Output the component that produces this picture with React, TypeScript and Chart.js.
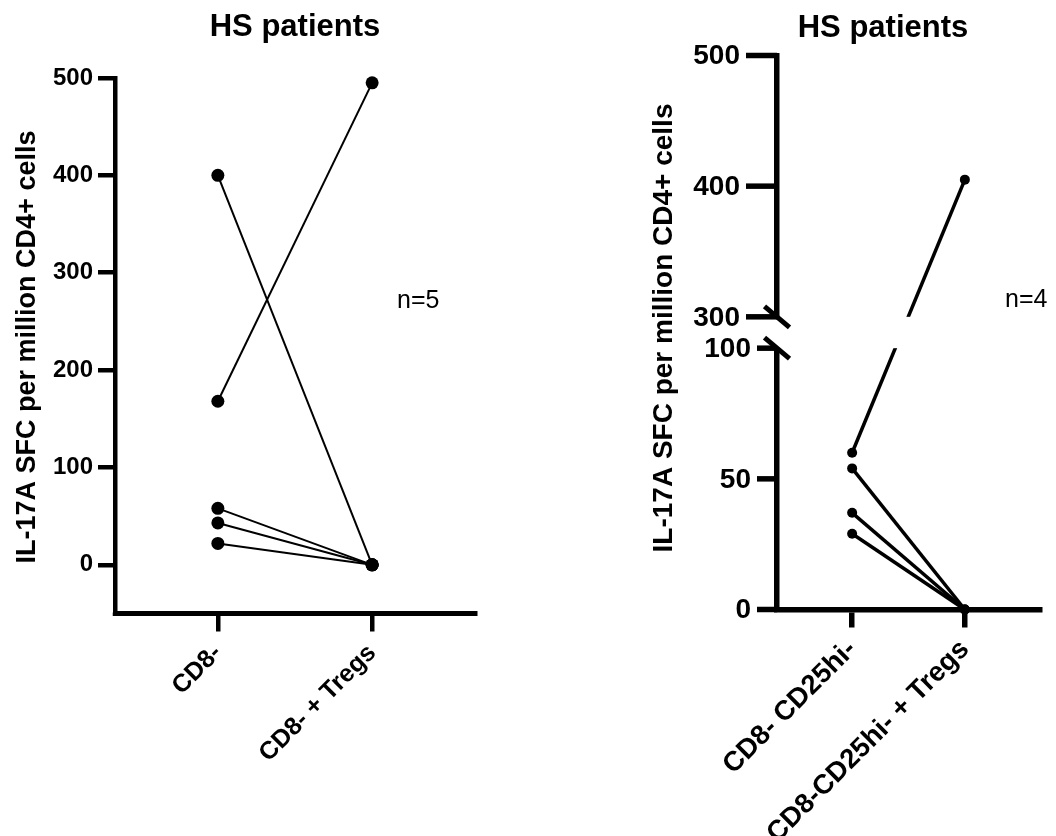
import { useEffect, useRef } from "react";
import { Chart, registerables } from "chart.js";

Chart.register(...registerables);

const FONT = '"Liberation Sans", Arial, Helvetica, sans-serif';

const panelTitle = "HS patients";
const yTitle = "IL-17A SFC per million CD4+ cells";

// Left panel: CD8- cells alone vs. with Tregs (paired, n=5)
const leftCategories = ["CD8-", "CD8- + Tregs"];
const leftBefore = [400, 168, 58, 43, 22];
const leftAfter = [0, 495, 0, 0, 0];
const leftTicks = [0, 100, 200, 300, 400, 500];
const leftNote = "n=5";

// Right panel: CD8- CD25hi- cells alone vs. with Tregs (paired, n=4)
const rightCategories = ["CD8- CD25hi-", "CD8-CD25hi- + Tregs"];
const rightBefore = [60, 54, 37, 29];
const rightAfter = [405, 0, 0, 0];
const rightTicks = [0, 50, 100, 300, 400, 500];
const rightNote = "n=4";

// Broken y axis: 0–100 at full scale, 300–500 at half scale, with a gap between
const BREAK_LOW = 100;
const BREAK_HIGH = 300;
const BREAK_GAP = 12;
const UPPER_SCALE = 0.5;
const toBroken = (v: number) =>
  v <= BREAK_LOW ? v : BREAK_LOW + BREAK_GAP + (v - BREAK_HIGH) * UPPER_SCALE;

function pairedDatasets(
  before: number[],
  after: number[],
  map: (v: number) => number,
  lineWidth: number,
  radius: number
) {
  return before.map((b, i) => ({
    data: [
      { x: 1, y: map(b) },
      { x: 2, y: map(after[i]) },
    ],
    borderColor: "#000",
    backgroundColor: "#000",
    borderWidth: lineWidth,
    pointRadius: radius,
    pointBackgroundColor: "#000",
    pointBorderWidth: 0,
    clip: false as const,
  }));
}

type Decor = {
  titleX: number;
  titleY: number;
  titleSize: number;
  yTitleX: number;
  yTitleY: number;
  yTitleSize: number;
  note: string;
  noteX: number;
  noteY: number;
  noteSize: number;
};

function decorPlugin(d: Decor, extra?: (chart: any) => void) {
  return {
    id: "decor",
    afterDraw(chart: any) {
      const ctx = chart.ctx as CanvasRenderingContext2D;
      ctx.save();
      if (extra) extra(chart);
      ctx.fillStyle = "#000";
      ctx.textAlign = "center";
      ctx.textBaseline = "alphabetic";
      ctx.font = `bold ${d.titleSize}px ${FONT}`;
      ctx.fillText(panelTitle, d.titleX, d.titleY);

      ctx.save();
      ctx.translate(d.yTitleX, d.yTitleY);
      ctx.rotate(-Math.PI / 2);
      ctx.font = `bold ${d.yTitleSize}px ${FONT}`;
      ctx.fillText(yTitle, 0, 0);
      ctx.restore();

      ctx.textAlign = "left";
      ctx.font = `${d.noteSize}px ${FONT}`;
      ctx.fillText(d.note, d.noteX, d.noteY);
      ctx.restore();
    },
  };
}

export default function App() {
  const leftRef = useRef<HTMLCanvasElement>(null);
  const rightRef = useRef<HTMLCanvasElement>(null);

  useEffect(() => {
    const leftAxisW = 4.5;
    const left = new Chart(leftRef.current!, {
      type: "line",
      data: {
        datasets: pairedDatasets(leftBefore, leftAfter, (v) => v, 2, 6.5) as any,
      },
      options: {
        animation: false,
        responsive: false,
        maintainAspectRatio: false,
        events: [],
        layout: { padding: { left: 0, top: 78, right: 53, bottom: 0 } },
        plugins: {
          legend: { display: false },
          tooltip: { enabled: false },
          title: { display: false },
        },
        scales: {
          x: {
            type: "linear",
            min: 1 / 3,
            max: 8 / 3,
            afterBuildTicks: (s: any) => {
              s.ticks = leftCategories.map((_, i) => ({ value: i + 1 }));
            },
            afterFit: (s: any) => {
              s.height = 222.5;
            },
            grid: {
              drawOnChartArea: false,
              drawTicks: true,
              tickLength: 18,
              lineWidth: leftAxisW,
              color: "#000",
            },
            border: { display: true, width: 5, color: "#000" },
            ticks: {
              callback: (_v: any, i: number) => leftCategories[i],
              autoSkip: false,
              maxRotation: 45,
              minRotation: 45,
              padding: 7,
              color: "#000",
              font: { family: FONT, size: 25, weight: "bold" },
            },
          },
          y: {
            type: "linear",
            min: -50,
            max: 500,
            afterBuildTicks: (s: any) => {
              s.ticks = leftTicks.map((v) => ({ value: v }));
            },
            afterFit: (s: any) => {
              s.width = 115;
            },
            grid: {
              drawOnChartArea: false,
              drawTicks: true,
              tickLength: 17,
              lineWidth: leftAxisW,
              color: "#000",
            },
            border: { display: true, width: leftAxisW, color: "#000" },
            ticks: {
              padding: 5,
              color: "#000",
              font: { family: FONT, size: 24, weight: "bold" },
            },
          },
        },
      },
      plugins: [
        decorPlugin(
          {
            titleX: 295,
            titleY: 36,
            titleSize: 31,
            yTitleX: 35,
            yTitleY: 347,
            yTitleSize: 27,
            note: leftNote,
            noteX: 397,
            noteY: 308,
            noteSize: 25,
          },
          (chart) => {
            // square off the corner where the two axes meet
            const { left: l, bottom: b } = chart.chartArea;
            chart.ctx.fillStyle = "#000";
            chart.ctx.fillRect(l - leftAxisW / 2, b - 1, leftAxisW, 3.5);
          }
        ),
      ],
    });

    const rightAxisW = 5.5;
    const right = new Chart(rightRef.current!, {
      type: "line",
      data: {
        datasets: pairedDatasets(rightBefore, rightAfter, toBroken, 3.5, 5) as any,
      },
      options: {
        animation: false,
        responsive: false,
        maintainAspectRatio: false,
        events: [],
        layout: { padding: { left: 0, top: 55.5, right: 16, bottom: 0 } },
        plugins: {
          legend: { display: false },
          tooltip: { enabled: false },
          title: { display: false },
        },
        scales: {
          x: {
            type: "linear",
            min: 1 / 3,
            max: 8 / 3,
            afterBuildTicks: (s: any) => {
              s.ticks = rightCategories.map((_, i) => ({ value: i + 1 }));
            },
            afterFit: (s: any) => {
              s.height = 226.5;
            },
            grid: {
              drawOnChartArea: false,
              drawTicks: true,
              tickLength: 18,
              lineWidth: rightAxisW,
              color: "#000",
            },
            border: { display: true, width: rightAxisW, color: "#000" },
            ticks: {
              callback: (_v: any, i: number) => rightCategories[i],
              autoSkip: false,
              maxRotation: 45,
              minRotation: 45,
              padding: 6,
              color: "#000",
              font: { family: FONT, size: 27.5, weight: "bold" },
            },
          },
          y: {
            type: "linear",
            min: 0,
            max: toBroken(500),
            afterBuildTicks: (s: any) => {
              s.ticks = rightTicks.map((v) => ({ value: toBroken(v) }));
            },
            afterFit: (s: any) => {
              s.width = 249;
            },
            grid: { display: false },
            border: { display: true, width: rightAxisW, color: "#000" },
            ticks: { display: false },
          },
        },
      },
      plugins: [
        decorPlugin(
          {
            titleX: 355,
            titleY: 37,
            titleSize: 31,
            yTitleX: 144,
            yTitleY: 328,
            yTitleSize: 28,
            note: rightNote,
            noteX: 477,
            noteY: 307,
            noteSize: 25,
          },
          (chart) => {
            const ctx = chart.ctx as CanvasRenderingContext2D;
            const area = chart.chartArea;
            const y = chart.scales.y;
            const yLow = y.getPixelForValue(BREAK_LOW);
            const yHigh = y.getPixelForValue(BREAK_LOW + BREAK_GAP);

            // open the gap in the axis and in any line crossing it
            ctx.fillStyle = "#fff";
            ctx.fillRect(area.left - rightAxisW, yHigh, area.right - area.left + rightAxisW, yLow - yHigh);

            // break marks
            ctx.strokeStyle = "#000";
            ctx.lineWidth = 5;
            ctx.lineCap = "butt";
            for (const cy of [yLow, yHigh]) {
              ctx.beginPath();
              ctx.moveTo(area.left - 12.5, cy - 10.5);
              ctx.lineTo(area.left + 12.5, cy + 10.5);
              ctx.stroke();
            }

            // ticks and labels of the broken axis
            ctx.fillStyle = "#000";
            ctx.lineWidth = rightAxisW;
            ctx.font = `bold 28px ${FONT}`;
            ctx.textAlign = "right";
            ctx.textBaseline = "middle";
            for (const v of rightTicks) {
              const py = y.getPixelForValue(toBroken(v));
              const len = v >= BREAK_HIGH ? 31 : 20;
              ctx.beginPath();
              ctx.moveTo(area.left - len, py);
              ctx.lineTo(area.left, py);
              ctx.stroke();
              ctx.fillText(String(v), area.left - len - 6, py + 1);
            }
          }
        ),
      ],
    });

    return () => {
      left.destroy();
      right.destroy();
    };
  }, []);

  return (
    <div
      style={{
        position: "absolute",
        left: 0,
        top: 0,
        width: 1056,
        height: 836,
        background: "#fff",
        overflow: "hidden",
      }}
    >
      <canvas
        ref={leftRef}
        width={528}
        height={836}
        style={{ position: "absolute", left: 0, top: 0, width: 528, height: 836 }}
      />
      <canvas
        ref={rightRef}
        width={528}
        height={836}
        style={{ position: "absolute", left: 528, top: 0, width: 528, height: 836 }}
      />
    </div>
  );
}
